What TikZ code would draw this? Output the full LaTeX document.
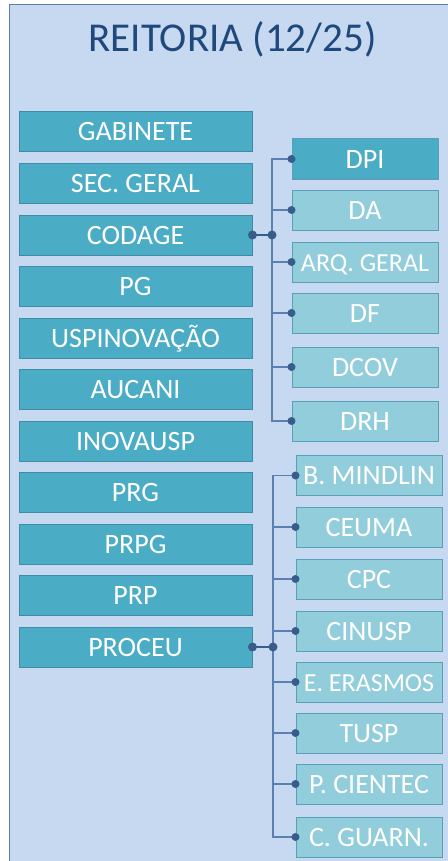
\documentclass[tikz,border=0pt]{standalone}
\usepackage{fontspec}
\setmainfont{Carlito}

\begin{document}
\begin{tikzpicture}[x=1pt, y=-1pt, every node/.style={inner sep=0pt, text=white, text height=18pt, text depth=0pt, font=\fontsize{28}{30}\selectfont}]
  \definecolor{fundo}{RGB}{198,217,240} \definecolor{moldura}{RGB}{95,125,170} \definecolor{titulo}{RGB}{31,73,125}
  \definecolor{coul0}{RGB}{75,172,198} \definecolor{borda0}{RGB}{62,141,165}
  \definecolor{coul1}{RGB}{146,205,220} \definecolor{borda1}{RGB}{88,160,184}
  \definecolor{pontocor}{RGB}{56,93,138} \definecolor{linha}{RGB}{91,127,176}
  \tikzstyle{caixa}=[draw=borda0, fill=coul0, line width=1pt, minimum width=233pt, minimum height=40pt]
  \tikzstyle{subcaixa}=[draw=borda1, fill=coul1, line width=1pt, minimum width=146pt, minimum height=40pt]
  \tikzstyle{galho}=[draw=linha, line width=1.2pt]
  \tikzstyle{tronco}=[draw=pontocor, line width=2pt]
  \useasboundingbox (0,0) rectangle (447,861);
  \draw[fill=fundo, draw=moldura, line width=1pt] (9,5) rectangle (470,890);
  \node[text=titulo, anchor=base, text height=, text depth=, font=\fontsize{41}{44}\selectfont] (titulo) at (232.5,52) {REITORIA (12/25)};
  \foreach \nome [count=\i from 0] in {GABINETE, SEC. GERAL, CODAGE, PG, USPINOVAÇÃO, AUCANI, INOVAUSP, PRG, PRPG, PRP, PROCEU}
    \node[caixa] (esq\i) at (135.5, 132+51.5*\i) {\nome};
  % CODAGE
  \coordinate (jun1) at (272,235);
  \foreach \nome/\y/\c [count=\i] in {DPI/159/0, DA/210/1, {\fontsize{26}{28}\selectfont ARQ. GERAL}/262/1, DF/313/1, DCOV/367/1, DRH/421/1} {
    \node[subcaixa, fill=coul\c] (cod\i) at (365,\y) {\nome};
    \draw[galho] (jun1) |- (cod\i.west);
    \fill[pontocor] (cod\i.west) circle (4);
  }
  % PROCEU
  \coordinate (jun2) at (273,647);
  \foreach \nome/\y [count=\i] in {B. MINDLIN/475.5, CEUMA/527, CPC/579, CINUSP/631, {\fontsize{26}{28}\selectfont E. ERASMOS}/682, TUSP/733, P. CIENTEC/784, C. GUARN./837} {
    \node[subcaixa] (pro\i) at (369,\y) {\nome};
    \draw[galho] (jun2) |- (pro\i.west);
    \fill[pontocor] (pro\i.west) circle (4);
  }
  \draw[tronco] (esq2.east) -- (jun1); \draw[tronco] (esq10.east) -- (jun2);
  \fill[pontocor] (esq2.east) circle (4.5) (jun1) circle (4.5);
  \fill[pontocor] (esq10.east) circle (4.5) (jun2) circle (4.5);
\end{tikzpicture}
\end{document}
